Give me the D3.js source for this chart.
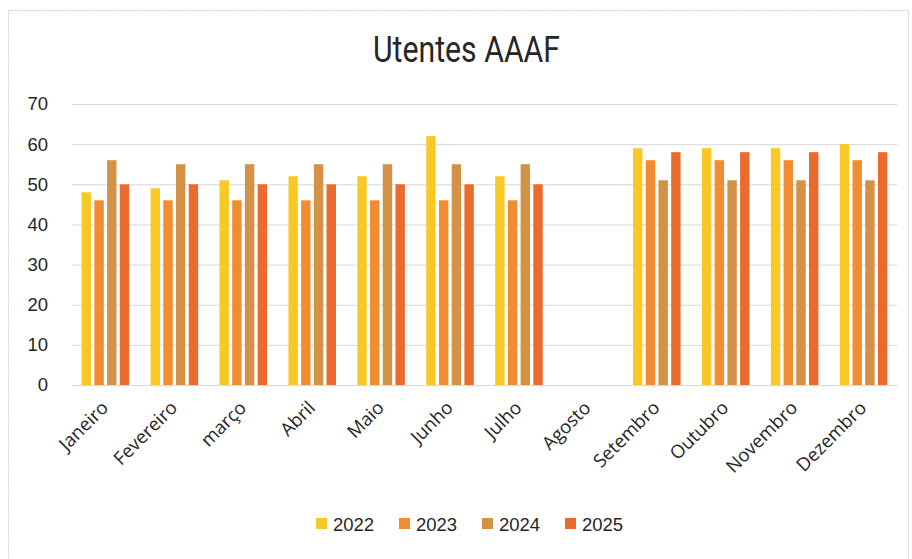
<!DOCTYPE html>
<html lang="pt">
<head>
  <meta charset="UTF-8">
  <title>Utentes AAAF</title>
  <style>
    body { margin: 0; background: #fff; }
    .axis text { fill: #262626; }
  </style>
</head>
<body>
  <script src="https://d3js.org/d3.v7.min.js"></script>
  <script>
    // data
    const months = ['Janeiro', 'Fevereiro', 'março', 'Abril', 'Maio', 'Junho',
                    'Julho', 'Agosto', 'Setembro', 'Outubro', 'Novembro', 'Dezembro'];
    const years = ['2022', '2023', '2024', '2025'];
    const values2022 = [48, 49, 51, 52, 52, 62, 52, null, 59, 59, 59, 60];
    const values2023 = [46, 46, 46, 46, 46, 46, 46, null, 56, 56, 56, 56];
    const values2024 = [56, 55, 55, 55, 55, 55, 55, null, 51, 51, 51, 51];
    const values2025 = [50, 50, 50, 50, 50, 50, 50, null, 58, 58, 58, 58];
    const yTicks = [0, 10, 20, 30, 40, 50, 60, 70];
    const colors = ['#f8c826', '#f28c30', '#d39246', '#eb6a2e'];

    const series = [values2022, values2023, values2024, values2025];

    const WIDTH = 912;
    const HEIGHT = 559;
    const margin = {top: 104, right: 15, bottom: 174, left: 72};
    const innerW = WIDTH - margin.left - margin.right;
    const innerH = HEIGHT - margin.top - margin.bottom;

    const svg = d3.select('body').append('svg')
      .attr('width', WIDTH)
      .attr('height', HEIGHT);

    // chart frame
    svg.append('rect')
      .attr('x', 8.5).attr('y', 10.5)
      .attr('width', WIDTH - 12).attr('height', HEIGHT - 8)
      .attr('fill', '#fff')
      .attr('stroke', '#d0d0d0')
      .attr('stroke-dasharray', '2,1');

    svg.append('text')
      .attr('x', 373).attr('y', 62)
      .attr('font-family', "'Roboto', sans-serif")
      .attr('font-size', 37)
      .attr('textLength', 187)
      .attr('lengthAdjust', 'spacingAndGlyphs')
      .attr('fill', '#262626')
      .text('Utentes AAAF');

    const chart = svg.append('g')
      .attr('transform', `translate(${margin.left},${margin.top})`);

    const x = d3.scaleBand().domain(months).range([0, innerW])
      .paddingInner(0.31).paddingOuter(0.14);
    const xs = d3.scaleBand().domain(years).range([0, x.bandwidth()]).paddingInner(0.26);
    const y = d3.scaleLinear().domain([0, 70]).range([innerH, 0]);

    // gridlines
    chart.append('g')
      .selectAll('line')
      .data(yTicks)
      .join('line')
      .attr('x1', 0).attr('x2', innerW)
      .attr('y1', d => y(d) + 0.5).attr('y2', d => y(d) + 0.5)
      .attr('stroke', '#d9d9d9');

    // y axis labels
    const yAxis = d3.axisLeft(y).tickValues(yTicks).tickSize(0).tickPadding(24);
    chart.append('g').attr('class', 'axis')
      .call(yAxis)
      .call(g => g.select('.domain').remove())
      .selectAll('text')
      .attr('font-family', "'Liberation Sans', Arial, sans-serif")
      .attr('font-size', 18.5);

    // bars
    const groups = chart.selectAll('.year')
      .data(series)
      .join('g')
      .attr('class', 'year')
      .attr('fill', (d, i) => colors[i]);

    groups.each(function (vals, i) {
      d3.select(this).selectAll('rect')
        .data(vals.map((v, j) => ({m: months[j], v})).filter(d => d.v !== null))
        .join('rect')
        .attr('x', d => x(d.m) + xs(years[i]))
        .attr('width', xs.bandwidth())
        .attr('y', d => y(d.v))
        .attr('height', d => innerH - y(d.v));
    });

    // x axis labels
    const xAxis = d3.axisBottom(x).tickSize(0).tickPadding(0);
    chart.append('g').attr('class', 'axis')
      .attr('transform', `translate(0,${innerH})`)
      .call(xAxis)
      .call(g => g.select('.domain').attr('stroke', '#d9d9d9'))
      .selectAll('text')
      .attr('font-family', "'Open Sans', 'Noto Sans', sans-serif")
      .attr('font-size', 18.5)
      .attr('text-anchor', 'end')
      .attr('y', 0)
      .attr('dy', 0)
      .attr('transform', 'translate(4,24) rotate(-45)');

    // legend
    const legend = svg.append('g')
      .attr('transform', 'translate(316,524)');
    const item = legend.selectAll('g')
      .data(years)
      .join('g')
      .attr('transform', (d, i) => `translate(${i * 83},0)`);
    item.append('rect')
      .attr('x', 0).attr('y', -6)
      .attr('width', 11).attr('height', 11)
      .attr('fill', (d, i) => colors[i]);
    item.append('text')
      .attr('x', 17).attr('y', 0)
      .attr('dy', '0.36em')
      .attr('font-family', "'Liberation Sans', Arial, sans-serif")
      .attr('font-size', 18.5)
      .attr('fill', '#262626')
      .text(d => d);
  </script>
</body>
</html>
